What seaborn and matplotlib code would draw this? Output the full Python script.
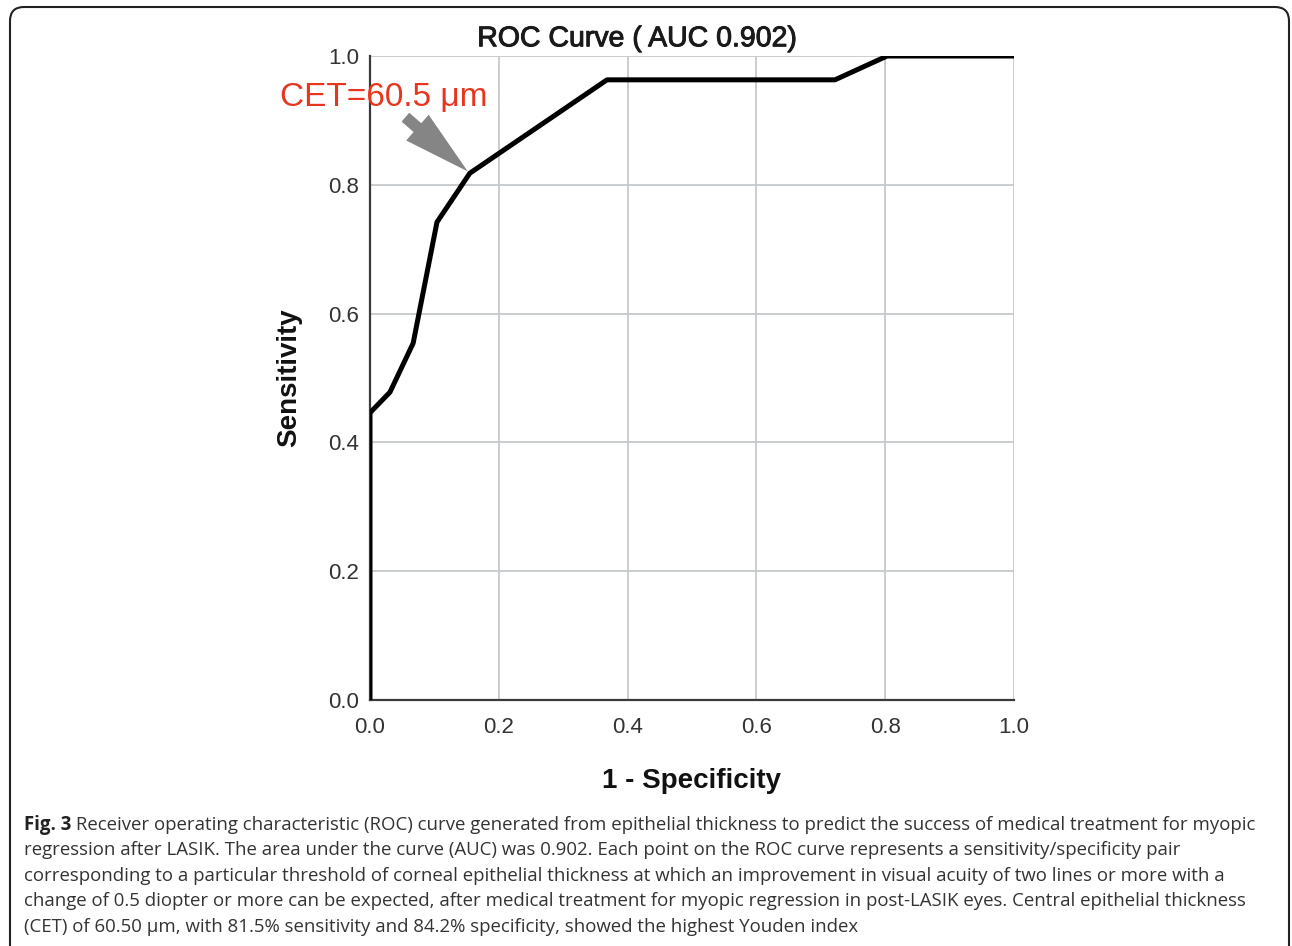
import matplotlib
matplotlib.use("Agg")
import matplotlib.pyplot as plt
import matplotlib.patheffects as pe
from matplotlib.patches import FancyBboxPatch, FancyArrowPatch
import pandas as pd
import seaborn as sns

# ROC points (1 - specificity, sensitivity)
fpr = [0.0, 0.0, 0.031, 0.067, 0.104, 0.155, 0.368, 0.722, 0.803, 1.0]
tpr = [0.0, 0.446, 0.478, 0.554, 0.742, 0.818, 0.963, 0.963, 1.0, 1.0]
ticks = [0.0, 0.2, 0.4, 0.6, 0.8, 1.0]
tick_labels = ["0.0", "0.2", "0.4", "0.6", "0.8", "1.0"]
cutoff = (0.155, 0.818)
cutoff_label = "CET=60.5 \u03bcm"
title = "ROC Curve ( AUC 0.902)"
caption_bold = "Fig. 3"
caption_lines = [
    " Receiver operating characteristic (ROC) curve generated from epithelial thickness to predict the success of medical treatment for myopic",
    "regression after LASIK. The area under the curve (AUC) was 0.902. Each point on the ROC curve represents a sensitivity/specificity pair",
    "corresponding to a particular threshold of corneal epithelial thickness at which an improvement in visual acuity of two lines or more with a",
    "change of 0.5 diopter or more can be expected, after medical treatment for myopic regression in post-LASIK eyes. Central epithelial thickness",
    "(CET) of 60.50 \u03bcm, with 81.5% sensitivity and 84.2% specificity, showed the highest Youden index",
]

df = pd.DataFrame({"fpr": fpr, "tpr": tpr})

sns.set_style("whitegrid")
plt.rcParams["font.family"] = ["Liberation Sans", "DejaVu Sans"]

W, H = 1292, 946
fig = plt.figure(figsize=(W / 100, H / 100), dpi=100)
ax = fig.add_axes([370 / W, 1 - 700 / H, 644 / W, 644 / H])

sns.lineplot(data=df, x="fpr", y="tpr", estimator=None, sort=False,
             color="black", linewidth=3.6, ax=ax, zorder=5)

ax.set_xlim(0, 1)
ax.set_ylim(0, 1)
ax.set_xticks(ticks)
ax.set_yticks(ticks)
ax.set_xticklabels(tick_labels)
ax.set_yticklabels(tick_labels)
ax.tick_params(axis="both", length=0, labelsize=16, colors="#333333")
ax.tick_params(axis="x", pad=12)
ax.tick_params(axis="y", pad=8)
ax.grid(True, color="#c6c9cc", linewidth=1.3)
for side in ["top", "right"]:
    ax.spines[side].set_visible(False)
for side in ["left", "bottom"]:
    ax.spines[side].set_color("#3a3a3a")
    ax.spines[side].set_linewidth(1.6)

t = ax.set_title(title, fontsize=20.5, color="#1a1a1a", pad=7)
t.set_x(0.415)
t.set_path_effects([pe.withStroke(linewidth=0.7, foreground="#1a1a1a")])
ax.set_xlabel("1 - Specificity", fontsize=20, fontweight="bold", color="#111111")
ax.set_ylabel("Sensitivity", fontsize=20, fontweight="bold", color="#111111")
ax.xaxis.set_label_coords(0.5, -0.105)
ax.yaxis.set_label_coords(-0.106, 0.5)

# highlighted cutoff
ax.text(-0.14, 0.922, cutoff_label, color="#e8361e", fontsize=24,
        ha="left", va="baseline", clip_on=False, zorder=6)
arrow = FancyArrowPatch((0.055, 0.905), cutoff,
                        arrowstyle="simple,head_length=1.6,head_width=0.82,tail_width=0.28",
                        mutation_scale=30, color="#858585", linewidth=0,
                        shrinkA=0, shrinkB=2, zorder=4, clip_on=False)
ax.add_patch(arrow)

# figure border
border = FancyBboxPatch((10, -30), W - 13, H - 7 + 30,
                        boxstyle="round,pad=0,rounding_size=14",
                        transform=None, fill=False, edgecolor="#222222",
                        linewidth=1.5)
fig.patches.append(border)

# caption
cap_font = ["Open Sans", "DejaVu Sans"]
cap_size = 13.4
line_y = [825, 850, 876, 901, 927]
fig.canvas.draw()
renderer = fig.canvas.get_renderer()
t_bold = fig.text(24 / W, 1 - line_y[0] / H, caption_bold, family=cap_font,
                  fontweight="bold", fontsize=cap_size, color="#222222", va="center")
bb = t_bold.get_window_extent(renderer=renderer)
fig.text(bb.x1 / W, 1 - line_y[0] / H, caption_lines[0], family=cap_font,
         fontsize=cap_size, color="#333333", va="center")
for y, line in zip(line_y[1:], caption_lines[1:]):
    fig.text(24 / W, 1 - y / H, line, family=cap_font, fontsize=cap_size,
             color="#333333", va="center")

fig.savefig("out.png", dpi=100)
